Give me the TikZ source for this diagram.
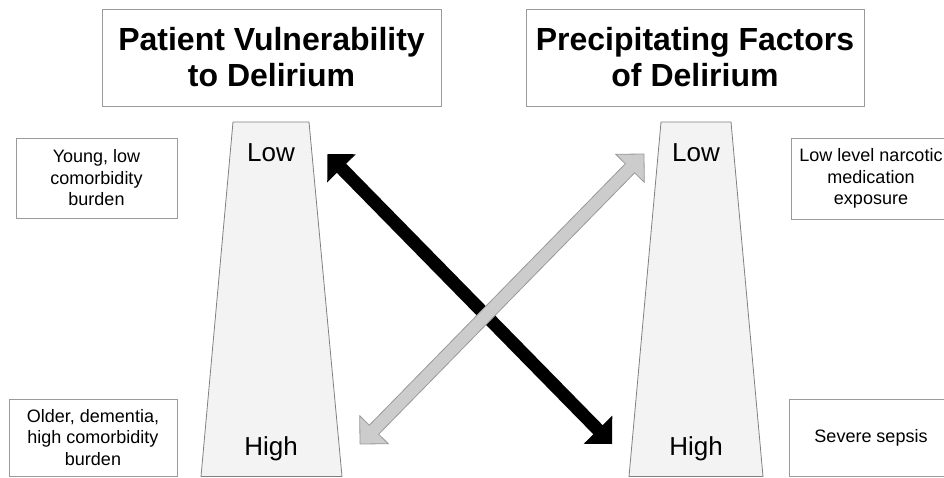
\documentclass[tikz,border=0pt]{standalone}
\usepackage{fontspec}
\setmainfont{Liberation Sans}
\usetikzlibrary{calc}
\definecolor{boxline}{HTML}{9A9A9A}
\definecolor{trapline}{HTML}{808080}
\definecolor{trapfill}{HTML}{F3F3F3}
\definecolor{arrowgray}{HTML}{CCCCCC}
\definecolor{arrowline}{HTML}{999999}
\tikzset{
  titlebox/.style={draw=boxline, line width=0.9pt, fill=white, align=center, inner sep=0pt,
    font=\fontsize{32}{36}\selectfont\bfseries, minimum height=97pt},
  infobox/.style={draw=boxline, line width=0.9pt, fill=white, align=center, inner sep=0pt,
    font=\fontsize{18}{21.5}\selectfont},
  levellabel/.style={anchor=base, inner sep=0pt, font=\fontsize{26}{30}\selectfont},
  trapezium box/.style={draw=trapline, fill=trapfill, line width=0.8pt},
}
\begin{document}
\begin{tikzpicture}[x=1pt,y=-1pt]
\useasboundingbox (0,0) rectangle (944,477);
\begin{scope}
\clip (0,0) rectangle (944,477);

% title boxes
\node[titlebox, minimum width=339pt] (tl) at (271.5,57.5) {Patient Vulnerability\\to Delirium};
\node[titlebox, minimum width=338pt] (tr) at (695,57.5) {Precipitating Factors\\of Delirium};

% trapezoids
\draw[trapezium box] (233,122) -- (309,122) -- (342,476.5) -- (201,476.5) -- cycle;
\draw[trapezium box] (661,122) -- (731,122) -- (763,476.5) -- (629,476.5) -- cycle;

\node[levellabel] (lowL) at (271,161) {Low};
\node[levellabel] (highL) at (271,455) {High};
\node[levellabel] (lowR) at (696,161) {Low};
\node[levellabel] (highR) at (696,455) {High};

% side boxes
\node[infobox, minimum width=161pt, minimum height=80pt] (yl) at (96.5,178) {Young, low\\comorbidity\\burden};
\node[infobox, minimum width=168pt, minimum height=77pt] (ol) at (93,437.5) {Older, dementia,\\high comorbidity\\burden};
\node[infobox, minimum width=160pt, minimum height=81pt] (nr) at (871,178.5) {Low level narcotic\\medication\\exposure};
\node[infobox, minimum width=164pt, minimum height=77pt] (sr) at (871,437.5) {Severe sepsis};

% black double arrow
\coordinate (bA) at (327.5,154);
\coordinate (bB) at (612,444);
\coordinate (bA1) at ($(bA)!20pt!(bB)$);
\coordinate (bB1) at ($(bB)!20pt!(bA)$);
\fill[black] (bA) -- ($(bA1)!20pt!90:(bB)$) -- ($(bA1)!6.5pt!90:(bB)$)
  -- ($(bB1)!6.5pt!-90:(bA)$) -- ($(bB1)!20pt!-90:(bA)$) -- (bB)
  -- ($(bB1)!20pt!90:(bA)$) -- ($(bB1)!6.5pt!90:(bA)$)
  -- ($(bA1)!6.5pt!-90:(bB)$) -- ($(bA1)!20pt!-90:(bB)$) -- cycle;

% gray double arrow
\coordinate (gA) at (360,444);
\coordinate (gB) at (644,154);
\coordinate (gA1) at ($(gA)!20pt!(gB)$);
\coordinate (gB1) at ($(gB)!20pt!(gA)$);
\filldraw[fill=arrowgray, draw=arrowline, line width=0.8pt, line join=miter]
  (gA) -- ($(gA1)!20pt!90:(gB)$) -- ($(gA1)!6.5pt!90:(gB)$)
  -- ($(gB1)!6.5pt!-90:(gA)$) -- ($(gB1)!20pt!-90:(gA)$) -- (gB)
  -- ($(gB1)!20pt!90:(gA)$) -- ($(gB1)!6.5pt!90:(gA)$)
  -- ($(gA1)!6.5pt!-90:(gB)$) -- ($(gA1)!20pt!-90:(gB)$) -- cycle;
\end{scope}
\end{tikzpicture}
\end{document}
